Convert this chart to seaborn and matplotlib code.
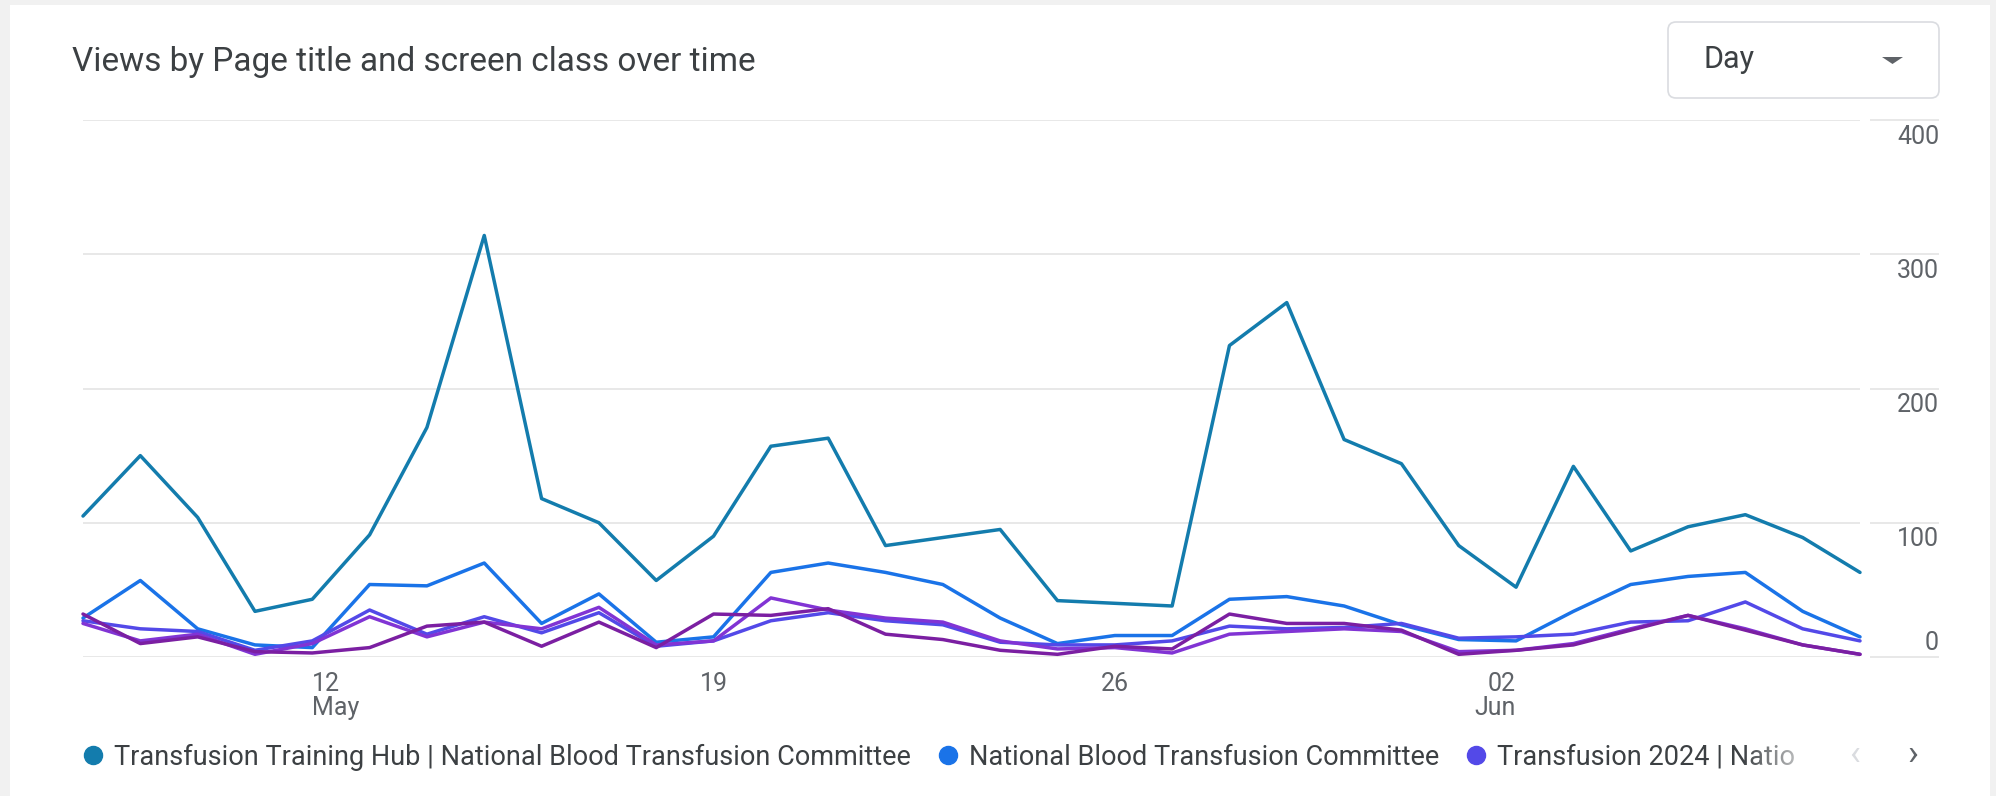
import numpy as np
import pandas as pd
import matplotlib
matplotlib.use('Agg')
import matplotlib.pyplot as plt
import seaborn as sns
from matplotlib.patches import Rectangle, FancyBboxPatch, Polygon
from matplotlib.lines import Line2D
from matplotlib.transforms import ScaledTranslation, IdentityTransform

# ---- data (views per day, 8 May - 8 Jun 2024) ----
dates = pd.date_range('2024-05-08', '2024-06-08', freq='D')

pages = ['Transfusion Training Hub | National Blood Transfusion Committee',
         'National Blood Transfusion Committee',
         'Transfusion 2024 | National Blood Transfusion Committee',
         'page 4',
         'page 5']
# legend is paged: only the first three entries show, the third one cut off
legend_labels = ['Transfusion Training Hub | National Blood Transfusion Committee',
                 'National Blood Transfusion Committee',
                 'Transfusion 2024 | Natio']

training_hub = [105, 150, 104, 34, 43, 91, 171, 314, 118, 100, 57, 90, 157, 163, 83, 89,
                95, 42, 40, 38, 232, 264, 162, 144, 83, 52, 142, 79, 97, 106, 89, 63]
nbtc = [29, 57, 21, 9, 7, 54, 53, 70, 25, 47, 11, 15, 63, 70, 63, 54,
        29, 10, 16, 16, 43, 45, 38, 24, 13, 12, 34, 54, 60, 63, 34, 15]
transfusion_2024 = [27, 21, 19, 5, 12, 35, 17, 30, 18, 33, 8, 12, 27, 33, 27, 24,
                    11, 9, 9, 12, 23, 21, 22, 25, 14, 15, 17, 26, 27, 41, 21, 12]
page_4 = [25, 12, 17, 2, 10, 30, 15, 26, 21, 37, 9, 12, 44, 35, 29, 26,
          12, 6, 7, 3, 17, 19, 21, 19, 4, 5, 10, 21, 31, 21, 9, 2]
page_5 = [32, 10, 15, 4, 3, 7, 23, 26, 8, 26, 7, 32, 31, 36, 17, 13,
          5, 2, 8, 6, 32, 25, 25, 20, 2, 5, 9, 20, 31, 20, 9, 2]

series = [training_hub, nbtc, transfusion_2024, page_4, page_5]
colors = ['#137cad', '#1a73e8', '#5349e8', '#8134d4', '#7b1fa2']

tick_dates = ['2024-05-12', '2024-05-19', '2024-05-26', '2024-06-02']
tick_labels = ['12\nMay', '19', '26', '02\nJun']
tick_align = ['left', 'center', 'center', 'right']
y_ticks = [0, 100, 200, 300, 400]

df = pd.concat([pd.DataFrame({'date': dates, 'views': v, 'page': p})
                for p, v in zip(pages, series)], ignore_index=True)

# ---- figure ----
W, H = 1996, 796
def fx(x):
    return x / W
def fy(y):
    return 1 - y / H

sns.set_style('white')
plt.rcParams['font.family'] = ['Roboto', 'DejaVu Sans']

fig = plt.figure(figsize=(W / 100, H / 100), dpi=100, facecolor='#f1f1f1')
fig.patches.append(Rectangle((fx(10), 0), fx(1990) - fx(10), fy(5), transform=fig.transFigure,
                             facecolor='white', edgecolor='none', zorder=-5))

ax = fig.add_axes([fx(83), fy(657), (1860 - 83) / W, (657 - 120) / H])
ax.set_facecolor('none')

sns.lineplot(data=df, x='date', y='views', hue='page', hue_order=pages, palette=colors,
             linewidth=2.5, legend=False, ax=ax)
for line in ax.lines:
    line.set_clip_on(False)

ax.set_xlim(dates[0], dates[-1])
ax.set_ylim(0, 400)
for s in ax.spines.values():
    s.set_visible(False)
ax.set_xlabel('')
ax.set_ylabel('')

# gridlines (and the short stubs under the value labels)
ax.set_yticks(y_ticks)
ax.grid(axis='y', color='#e6e6e6', linewidth=1.3)
ax.grid(axis='x', visible=False)
ax.set_axisbelow(True)
ax.hlines(y_ticks, 1.0056, 1.0445, transform=ax.get_yaxis_transform(),
          colors='#e6e6e6', linewidth=1.3, clip_on=False)

ax.yaxis.tick_right()
ax.tick_params(axis='y', length=0, pad=56.9, labelsize=18, labelcolor='#5f6368')
for lab, v in zip(ax.get_yticklabels(), y_ticks):
    lab.set_ha('right')
    dy = 16 if v == 0 else -14
    lab.set_transform(lab.get_transform() + ScaledTranslation(0, dy / 100, fig.dpi_scale_trans))

ax.set_xticks(pd.to_datetime(tick_dates))
ax.set_xticklabels(tick_labels)
ax.tick_params(axis='x', length=7.2, width=1.1, color='#dadce0', pad=3.6,
               labelsize=18, labelcolor='#5f6368')
for lab, ha in zip(ax.get_xticklabels(), tick_align):
    lab.set_ha(ha)
    lab.set_multialignment(ha)
    lab.set_linespacing(1.0)

# title and "Day" dropdown
fig.text(fx(72), fy(62), 'Views by Page title and screen class over time',
         ha='left', va='center', fontsize=24, color='#3c4043')
fig.patches.append(FancyBboxPatch((1668, H - 98), 271, 76,
                                  boxstyle='round,pad=0,rounding_size=8',
                                  transform=IdentityTransform(), facecolor='white',
                                  edgecolor='#dadce0', linewidth=1.2))
fig.text(fx(1704), fy(59), 'Day', ha='left', va='center', fontsize=22, color='#3c4043')
fig.patches.append(Polygon([[1882, H - 57], [1903, H - 57], [1892.5, H - 64]],
                           closed=True, transform=IdentityTransform(),
                           facecolor='#5f6368', edgecolor='none'))

# legend (first three pages visible, paged)
handles = [Line2D([], [], marker='o', linestyle='none', markersize=13,
                  markerfacecolor=c, markeredgecolor=c) for c in colors[:3]]
fig.legend(handles, legend_labels, loc='center left', bbox_to_anchor=(fx(84), fy(757)),
           ncol=3, frameon=False, fontsize=19.5, handlelength=0.65, handletextpad=0.45,
           columnspacing=1.05, borderpad=0, borderaxespad=0, labelcolor='#3c4043')

# fade-out of the cut legend entry
fade_ax = fig.add_axes([fx(1700), fy(785), (1840 - 1700) / W, (785 - 730) / H], zorder=10)
xs = np.arange(1700, 1840)
fade = np.ones((1, len(xs), 4))
fade[..., 3] = np.clip((xs - 1742) / (1818 - 1742), 0, 1) * 0.92
fade_ax.imshow(fade, aspect='auto', extent=(0, 1, 0, 1))
fade_ax.axis('off')

fig.text(fx(1855), fy(755), '\u2039', ha='center', va='center', fontsize=26,
         color='#dadce0', zorder=11)
fig.text(fx(1913), fy(755), '\u203a', ha='center', va='center', fontsize=26,
         color='#5f6368', zorder=11)

fig.savefig('out.png', dpi=100, facecolor=fig.get_facecolor())
